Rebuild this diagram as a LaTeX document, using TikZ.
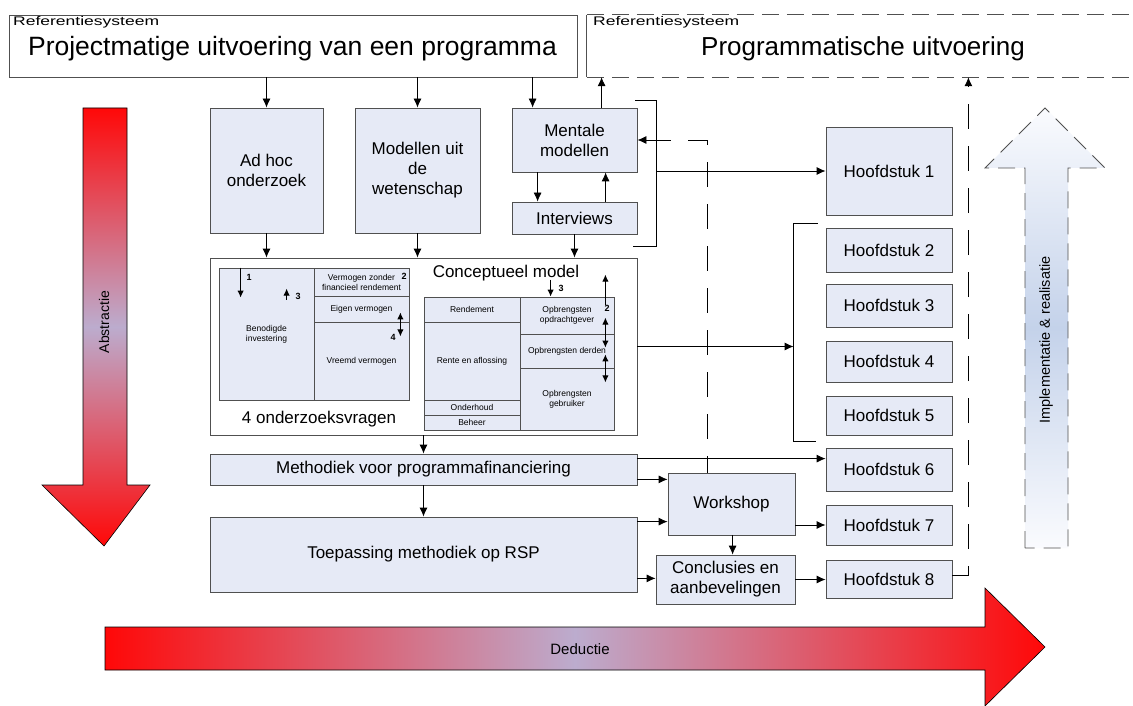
\documentclass[tikz,border=0pt]{standalone}
\usepackage{fontspec}
\setmainfont{Liberation Sans}
\usepackage{graphicx}
\usetikzlibrary{arrows.meta,fit,calc}

\definecolor{boxfill}{RGB}{230,234,246}
\definecolor{boxline}{RGB}{80,80,80}
\definecolor{arrowred}{RGB}{255,8,8}
\definecolor{arrowmid}{RGB}{188,172,206}
\definecolor{upmid}{RGB}{196,210,234}
\definecolor{uplight}{RGB}{250,251,254}

\tikzset{
  blk/.style={draw=boxline, fill=boxfill, line width=0.8pt, inner sep=0pt},
  small/.style={draw=boxline, fill=boxfill, line width=0.8pt, inner sep=0pt},
  frame/.style={draw=boxline, fill=white, line width=0.8pt, inner sep=0pt},
  txt/.style={inner sep=0pt, align=center, font=\fontsize{17}{20}\selectfont},
  stxt/.style={inner sep=0pt, align=center, font=\fontsize{8.5}{10}\selectfont},
  num/.style={inner sep=0pt, font=\fontsize{9}{10}\selectfont\bfseries},
  plain/.style={draw=black, line width=0.8pt},
  conn/.style={draw=black, line width=0.8pt, -{Latex[length=9pt,width=8pt]}},
  connback/.style={draw=black, line width=0.8pt, {Latex[length=9pt,width=8pt]}-},
  minor/.style={draw=black, line width=1.1pt, -{Latex[length=7pt,width=6.5pt]}},
  twoway/.style={draw=black, line width=1.1pt,
    {Latex[length=7pt,width=6.5pt]}-{Latex[length=7pt,width=6.5pt]}},
  longdash/.style={dash pattern=on 25pt off 17pt},
  headdash/.style={draw=boxline, line width=0.8pt, dash pattern=on 17pt off 8pt},
}

% a filled box between two corners, with its text set at the box centre
\newcommand\boxtext[6]{%
  \node[#1, fit={(#3) (#4)}] (#2) {};
  \node[#5] (#2-t) at (#2.center) {#6};}

\begin{document}
\begin{tikzpicture}[x=1pt,y=-1pt]
\useasboundingbox (0,0) rectangle (1133,706);
\fill[white] (0,0) rectangle (1133,706);

% ---- large direction arrows ----
\shadedraw[top color=arrowred, bottom color=arrowred, middle color=arrowmid,
  draw=black, line width=0.6pt]
  (83,108) -- (127,108) -- (127,485) -- (150,485) -- (104,546) -- (42,485) -- (83,485) -- cycle;
\node[rotate=90, inner sep=0pt, font=\fontsize{14}{16}\selectfont] (abstr) at (104,322) {Abstractie};

\shadedraw[left color=arrowred, right color=arrowred, middle color=arrowmid,
  draw=black, line width=0.6pt]
  (105,627) -- (985,627) -- (985,588) -- (1045,647) -- (985,706) -- (985,670) -- (105,670) -- cycle;
\node[anchor=base, inner sep=0pt, font=\fontsize{15}{17}\selectfont] (deduc) at (580,654) {Deductie};

\shadedraw[top color=uplight, bottom color=uplight, middle color=upmid,
  draw=boxline, line width=0.8pt, dash pattern=on 17pt off 9pt]
  (1025,548) -- (1025,168) -- (985,168) -- (1045,108) -- (1105,168) -- (1068,168) -- (1068,548) -- cycle;
\node[rotate=90, inner sep=0pt, font=\fontsize{14.5}{16}\selectfont] (impl) at (1046,340) {Implementatie \& realisatie};

% ---- reference systems ----
\node[frame, fit={(9,15) (577,77)}] (ref1) {};
\node[anchor=north west, inner sep=0pt, font=\fontsize{12.5}{14}\selectfont] (ref1lab) at (13,16)
  {\scalebox{1.4}[1]{Referentiesysteem}};
\node[anchor=base, inner sep=0pt, font=\fontsize{26.5}{30}\selectfont] (ref1title) at (292.5,56)
  {Projectmatige uitvoering van een programma};

\node[inner sep=0pt, fit={(587,15) (1140,77)}] (ref2) {};
\draw[boxline, line width=0.8pt] (ref2.north west) -- (ref2.south west);
\draw[headdash] (ref2.north west) -- (ref2.north east);
\draw[headdash] (ref2.south west) -- (ref2.south east);
\node[anchor=north west, inner sep=0pt, font=\fontsize{12.5}{14}\selectfont] (ref2lab) at (593,16)
  {\scalebox{1.4}[1]{Referentiesysteem}};
\node[anchor=base, inner sep=0pt, font=\fontsize{26}{30}\selectfont] (ref2title) at (863,56)
  {Programmatische uitvoering};

% ---- sources ----
\boxtext{blk}{adhoc}{210,108}{323,233}{txt}{Ad hoc\\onderzoek}
\boxtext{blk}{wet}{355,108}{480,233}{txt}{Modellen uit\\de\\wetenschap}
\boxtext{blk}{ment}{512,108}{637,172}{txt}{Mentale\\modellen}
\boxtext{blk}{intv}{512,202}{637,234}{txt}{Interviews}

% ---- conceptual model ----
\node[frame, fit={(210,258) (637,435)}] (cm) {};
\node[txt, anchor=base] (cmtitle) at (506,277) {Conceptueel model};
\node[txt, anchor=base] (cmq) at (319,423) {4 onderzoeksvragen};

\boxtext{small}{ben}{219,268}{314,400}{stxt}{Benodigde\\investering}
\boxtext{small}{vzf}{314,268}{409,296}{stxt}{Vermogen zonder\\financieel rendement}
\boxtext{small}{eig}{314,296}{409,322}{stxt}{Eigen vermogen}
\boxtext{small}{vre}{314,322}{409,400}{stxt}{Vreemd vermogen}

\boxtext{small}{rend}{424,297}{520,322}{stxt}{Rendement}
\boxtext{small}{rente}{424,322}{520,400}{stxt}{Rente en aflossing}
\boxtext{small}{ond}{424,400}{520,415}{stxt}{Onderhoud}
\boxtext{small}{beh}{424,415}{520,430}{stxt}{Beheer}
\boxtext{small}{opdr}{520,297}{614,334}{stxt}{Opbrengsten\\opdrachtgever}
\boxtext{small}{derd}{520,334}{614,368}{stxt}{Opbrengsten derden}
\boxtext{small}{gebr}{520,368}{614,430}{stxt}{Opbrengsten\\gebruiker}

% research-question markers
\draw[minor] ($(ben.north west)+(22,0)$) -- ++(0,30);
\node[num] (n1) at (249,277) {1};
\draw[minor] ($(ben.north west)+(68,32)$) -- ++(0,-11);
\node[num] (n3a) at (298,296) {3};
\node[num] (n2a) at (404,276) {2};
\draw[twoway] ($(eig.south east)+(-9,-10)$) -- ++(0,24);
\node[num] (n4a) at (393,337) {4};

\draw[minor] ($(opdr.north west)+(31,-17)$) -- ++(0,17);
\node[num] (n3b) at (561,288) {3};
\draw[minor] ($(opdr.north east)+(-9,8)$) -- ++(0,-30);
\node[num] (n2b) at (607,308) {2};
\draw[twoway] ($(derd.north east)+(-9,-16)$) -- ++(0,30);
\draw[twoway] ($(derd.south east)+(-9,-14)$) -- ++(0,28);

% ---- method and application ----
\boxtext{blk}{meth}{210,454}{637,485}{txt}{Methodiek voor programmafinanciering}
\boxtext{blk}{toep}{210,517}{637,592}{txt}{Toepassing methodiek op RSP}
\boxtext{blk}{work}{668,473}{795,535}{txt}{Workshop}
\boxtext{blk}{concl}{656,555}{795,604}{txt}{Conclusies en\\aanbevelingen}

% ---- chapters ----
\foreach \n/\ya/\yb in {1/127/215, 2/228/272, 3/284/327, 4/341/382,
                        5/396/435, 6/448/491, 7/505/545, 8/560/598}
  {\boxtext{blk}{h\n}{826,\ya}{952,\yb}{txt}{Hoofdstuk \n}}

% ---- connectors ----
\draw[conn] (adhoc.north |- ref1.south) -- (adhoc.north);
\draw[conn] (wet.north |- ref1.south) -- (wet.north);
\coordinate (m1) at ($(ment.north west)+(21,0)$);
\draw[conn] (m1 |- ref1.south) -- (m1);
\coordinate (m2) at ($(ment.north west)+(90,0)$);
\draw[conn] (m2) -- (m2 |- ref2.south);

\coordinate (m3) at ($(ment.south west)+(26,0)$);
\draw[conn] (m3) -- (m3 |- intv.north);
\coordinate (m4) at ($(intv.north west)+(94,0)$);
\draw[conn] (m4) -- (m4 |- ment.south);

\draw[conn] (adhoc.south) -- (adhoc.south |- cm.north);
\draw[conn] (wet.south) -- (wet.south |- cm.north);
\draw[conn] (intv.south) -- (intv.south |- cm.north);

% bracket around mental models and interviews
\draw[plain] ($(ment.north east)+(-2,-7)$) -- ++(21,0) coordinate (bt)
  -- ($(intv.south east)+(19,12)$) -- ++(-23,0);
\draw[conn] (bt |- h1.west) -- (h1.west);

% feedback from the workshop
\coordinate (fb) at ($(work.north west)+(40,0)$);
\draw[connback, longdash] (ment.east) -- (fb |- ment.east) -- (fb);

% bracket for chapters 2 to 5
\draw[plain] ($(h2.north west)+(-8,-4)$) -- ++(-24,0) coordinate (b2t)
  -- ($(h5.south west)+(-32,6)$) -- ++(22,0);
\draw[conn] (cm.east) -- (cm.east -| b2t);

\draw[conn] (cm.south) -- (cm.south |- meth.north);
\draw[conn] (meth.south) -- (meth.south |- toep.north);

\coordinate (c6) at ($(meth.north east)+(0,5)$);
\draw[conn] (c6) -- (c6 -| h6.west);
\coordinate (c7) at ($(meth.south east)+(0,-6)$);
\draw[conn] (c7) -- (c7 -| work.west);
\coordinate (c8) at ($(toep.north east)+(0,5)$);
\draw[conn] (c8) -- (c8 -| work.west);
\coordinate (c9) at ($(toep.south east)+(0,-14)$);
\draw[conn] (c9) -- (c9 -| concl.west);
\coordinate (c10) at ($(work.south west)+(65,0)$);
\draw[conn] (c10) -- (c10 |- concl.north);
\draw[conn] (h7.west -| work.east) -- (h7.west);
\draw[conn] (concl.east) -- (concl.east -| h8.west);

\coordinate (c11) at ($(h8.east)+(16,-4)$);
\draw[conn, longdash] ($(h8.east)+(0,-4)$) -- (c11) -- (c11 |- ref2.south);
\end{tikzpicture}
\end{document}
